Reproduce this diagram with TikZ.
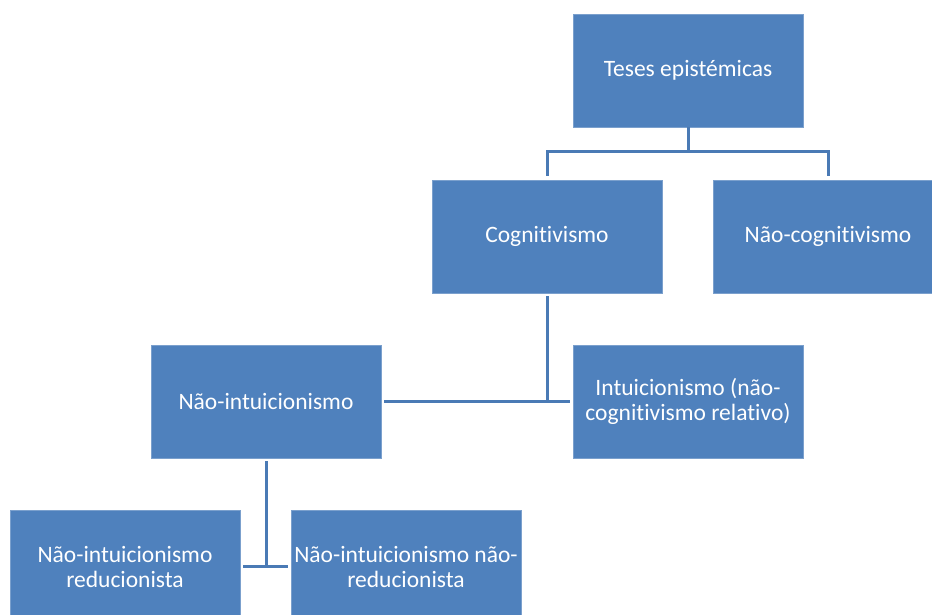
\documentclass[tikz,border=0pt]{standalone}
\usepackage{fontspec}
\setmainfont[Ligatures=NoCommon]{Carlito}
\definecolor{boxblue}{HTML}{4F81BD}
\definecolor{lineblue}{HTML}{4A7AB5}
\begin{document}
\begin{tikzpicture}[x=1pt,y=-1pt,
  box/.style={rectangle, fill=boxblue, draw=boxblue!75!white, line width=0.6pt,
    minimum width=230pt, minimum height=113pt, inner sep=2pt, align=center,
    text=white, font=\fontsize{23.5}{25}\selectfont},
  conn/.style={draw=lineblue, line width=3pt}]
\useasboundingbox (0,0) rectangle (932,615);
\fill[white] (0,0) rectangle (932,615);
\node[box] (T)  at (688,70.5)  {Teses epistémicas};
\node[box] (C)  at (547,236.5) {Cognitivismo};
\node[box] (NC) at (828,236.5) {Não-cognitivismo};
\node[box] (NI) at (266,401.5) {Não-intuicionismo};
\node[box] (I)  at (688,401.5) {Intuicionismo (não-\\cognitivismo relativo)};
\node[box] (R)  at (125,566.5) {Não-intuicionismo\\reducionista};
\node[box] (NR) at (406,566.5) {Não-intuicionismo não-\\reducionista};
\coordinate (b1) at (688,152);
\draw[conn] (T.south) -- (b1);
\draw[conn] ([yshift=4pt]C.north) |- (b1) -| ([yshift=4pt]NC.north);
\draw[conn] ([yshift=-3pt]C.south) -- (C.south |- NI.east);
\draw[conn] ([xshift=3pt]NI.east) -- ([xshift=-3pt]I.west);
\draw[conn] ([yshift=-3pt]NI.south) -- (NI.south |- R.east);
\draw[conn] ([xshift=3pt]R.east) -- ([xshift=-3pt]NR.west);
\end{tikzpicture}
\end{document}
